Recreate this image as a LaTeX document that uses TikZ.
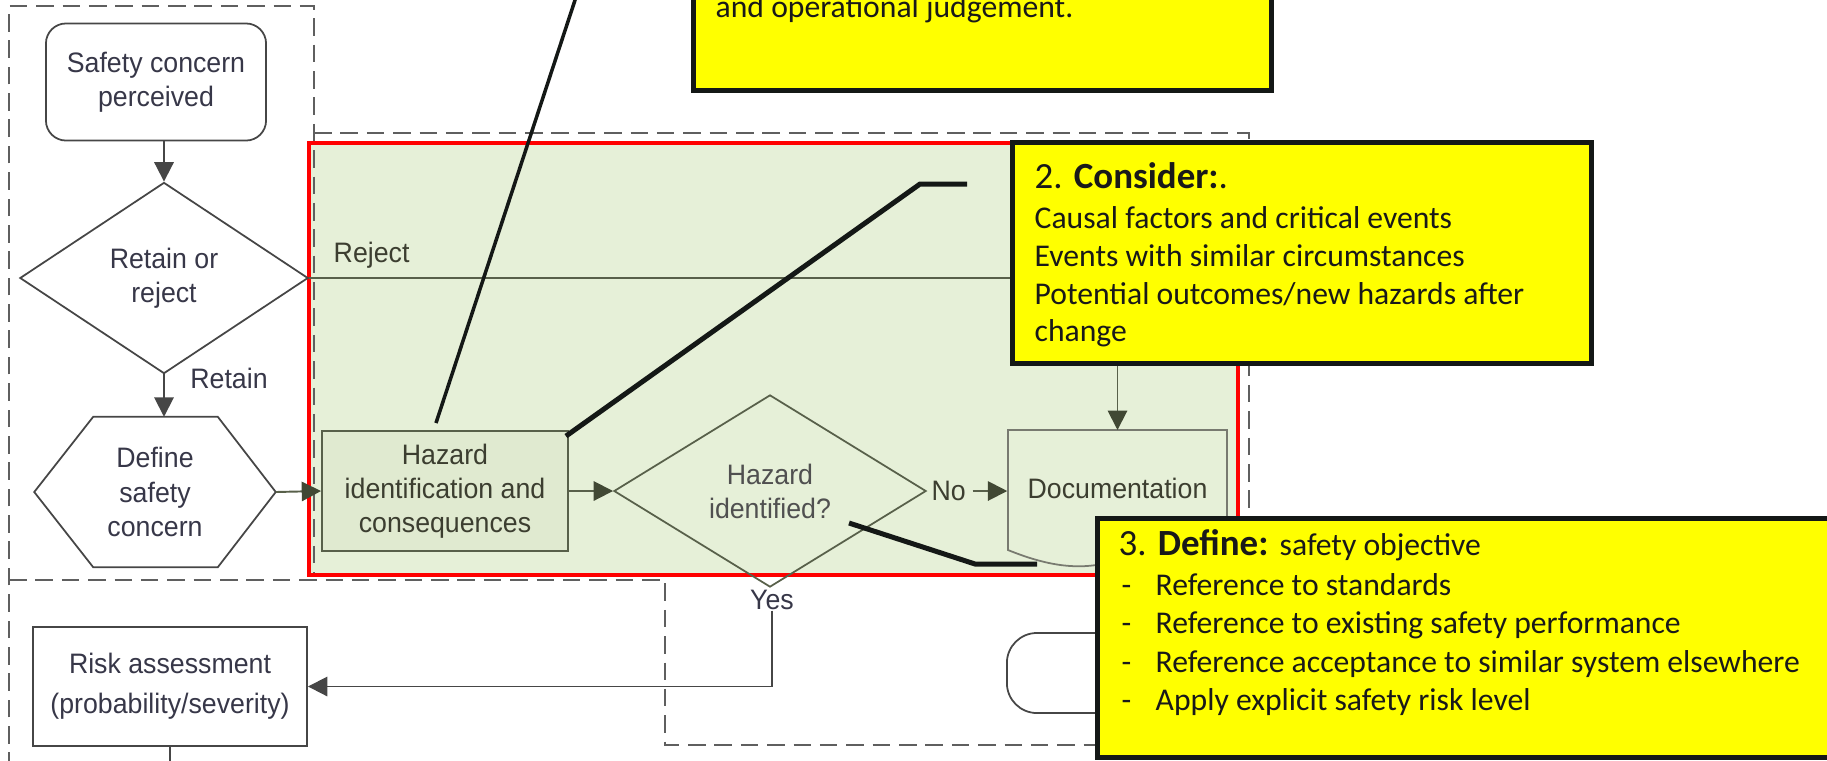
\documentclass[tikz,border=0pt]{standalone}
\usepackage{fontspec}
\usetikzlibrary{arrows.meta,shapes.geometric,calc}
\newfontfamily\callfont{Carlito}
\newfontfamily\fcfont[FakeStretch=0.95]{Liberation Sans}
\definecolor{greenbg}{RGB}{230,240,216}
\definecolor{hazfill}{RGB}{224,234,208}
\definecolor{fcline}{RGB}{70,70,70}
\definecolor{gline}{RGB}{88,96,74}
\definecolor{garrowc}{RGB}{65,72,52}
\definecolor{fctext}{RGB}{55,55,72}
\definecolor{gtext}{RGB}{60,62,48}
\definecolor{hidtext}{RGB}{80,80,80}
\definecolor{doclinec}{RGB}{120,122,112}
\definecolor{dashc}{RGB}{95,95,95}
\definecolor{callyellow}{RGB}{255,255,0}
\definecolor{callline}{RGB}{20,24,22}
\definecolor{redframe}{RGB}{255,0,0}
\begin{document}
\begin{tikzpicture}[x=0.01cm,y=-0.01cm,
  fctxt/.style={font=\fcfont\fontsize{8}{9.7}\selectfont,align=center,text=fctext},
  fcshape/.style={draw=fcline,line width=0.5pt,inner sep=0pt,fctxt},
  gshape/.style={draw=gline,line width=0.5pt,inner sep=0pt,fctxt,text=gtext},
  fcarrow/.style={draw=fcline,line width=0.55pt,-{Triangle[length=5.5pt,width=5.5pt]}},
  garrow/.style={draw=gline,line width=0.55pt,-{Triangle[length=5.5pt,width=5.5pt,color=garrowc]}},
  dashedbound/.style={draw=dashc,line width=0.6pt,dash pattern=on 5pt off 2.5pt},
  callbox/.style={draw=callline,line width=0.05cm,fill=callyellow,inner sep=0pt},
  callleader/.style={draw=callline,line width=0.05cm},
  calltxt/.style={font=\callfont\fontsize{9}{10.8}\selectfont,text=black!90,inner sep=0pt,anchor=base west}
]
\useasboundingbox (0,0) rectangle (1827,760);

% swim-lane background
\fill[greenbg] (309,143) rectangle (1238,575);
\draw[dashedbound] (9,770) -- (9,6) -- (314,6) -- (314,577);
\draw[dashedbound] (314,133) -- (1249,133) -- (1249,620);
\draw[dashedbound] (9,580) -- (665,580) -- (665,745) -- (1150,745);
\draw[draw=redframe,line width=0.045cm] (309,143) rectangle (1238,575);

% flowchart
\node[fcshape,rounded corners=0.2cm,minimum width=2.2cm,minimum height=1.17cm] (safety) at (156,82) {Safety concern\\perceived};
\node[fcshape,diamond,minimum width=2.88cm,minimum height=1.91cm] (retain) at (164,278) {Retain or\\reject};
\node[fctxt,inner sep=0pt,minimum width=2.4cm,minimum height=1.49cm] (def) at (155,492) {Define\\safety\\concern};
\draw[draw=fcline,line width=0.5pt] (def.west) -- ($(def.north west)+(59,0)$) -- ($(def.north east)+(-58,0)$) -- (def.east) -- ($(def.south east)+(-58,0)$) -- ($(def.south west)+(59,0)$) -- cycle;
\node[gshape,fill=hazfill,minimum width=2.46cm,minimum height=1.2cm] (haz) at (445,491) {Hazard\\identification and\\consequences};
\node[gshape,diamond,text=hidtext,minimum width=3.12cm,minimum height=1.92cm] (hid) at (770,491) {Hazard\\identified?};
\draw[draw=doclinec,fill=greenbg,line width=0.5pt] (1008,430) -- (1227,430) -- (1227,545) .. controls (1190,538) and (1150,548) .. (1110,562) .. controls (1075,572) and (1040,563) .. (1008,550) -- cycle;
\node[fctxt,text=gtext,inner sep=0pt,minimum width=2.19cm,minimum height=1.2cm] (doc) at (1117.5,488) {Documentation};
\node[fcshape,rounded corners=0.3cm,minimum width=3.9cm,minimum height=0.8cm] (term) at (1202,673) {};
\node[fcshape,minimum width=2.74cm,minimum height=1.19cm] (risk) at (170,686.5) {Risk assessment\\[1.7pt](probability/severity)};

\node[fctxt,text=gtext,anchor=west,inner sep=0pt] (rejlab) at (333,255) {Reject};
\node[fctxt,inner sep=0pt] (retlab) at (229,378) {Retain};
\node[fctxt,text=gtext,anchor=west,inner sep=0pt] (nolab) at ([xshift=0.04cm]hid.east) {No};
\node[fctxt,inner sep=0pt] (yeslab) at (772,600) {Yes};

\draw[fcarrow] (safety.south -| retain.north) -- (retain.north);
\draw[fcarrow] (retain.south) -- (retain.south |- def.north);
\draw[garrow] (def.east) -- (haz.west);
\draw[garrow] (haz.east) -- (hid.west);
\draw[garrow] ([xshift=0.06cm]nolab.east) -- (nolab.east -| doc.west);
\draw[garrow] (retain.east) -- (retain.east -| doc.north) -- (1117.5,430);
\draw[fcarrow] (yeslab.south) -- (yeslab.south |- risk.east) -- (risk.east);
\coordinate (riskout) at (170,775);
\draw[draw=fcline,line width=0.55pt] (risk.south) -- (riskout);

% callout leaders
\coordinate (c1a) at (579,-12);
\coordinate (c1b) at (436,423);
\draw[callleader,line width=0.035cm] (c1a) -- (c1b);
\coordinate (c2k) at (920,184);
\coordinate (c2e) at (967,184);
\draw[callleader] ([shift={(-3,6)}]haz.north east) -- (c2k) -- (c2e);
\coordinate (c3s) at (849,523);
\coordinate (c3k) at (975,564);
\coordinate (c3e) at (1037,564);
\draw[callleader] (c3s) -- (c3k) -- (c3e);

% callout boxes
\node[callbox,minimum width=5.77cm,minimum height=1.6cm] (box1) at (982.5,10) {};
\node[calltxt] (b1t) at (715,17) {and operational judgement.};

\node[callbox,minimum width=5.78cm,minimum height=2.2cm] (box2) at (1302,253) {};
\node[calltxt] (b2t) at (1034,188) {\fontsize{10.5}{12}\selectfont 2. \textbf{Consider:}.};
\node[calltxt] (b2a) at (1034,228) {Causal factors and critical events};
\node[calltxt] (b2b) at (1034,266) {Events with similar circumstances};
\node[calltxt] (b2c) at (1034,304) {Potential outcomes/new hazards after};
\node[calltxt] (b2d) at (1034,341) {change};

\node[callbox,minimum width=8cm,minimum height=2.39cm] (box3) at (1498,638) {};
\node[calltxt] (b3t) at (1118,555) {\fontsize{10.5}{12}\selectfont 3. \textbf{Define:} \fontsize{9}{10.8}\selectfont safety objective};
\foreach \yy/\tt [count=\i] in {595/Reference to standards,633/Reference to existing safety performance,672/Reference acceptance to similar system elsewhere,710/Apply explicit safety risk level}{
  \node[calltxt] (b3d\i) at (1121,\yy) {-};
  \node[calltxt] (b3i\i) at (1155,\yy) {\tt};
}
\end{tikzpicture}
\end{document}
